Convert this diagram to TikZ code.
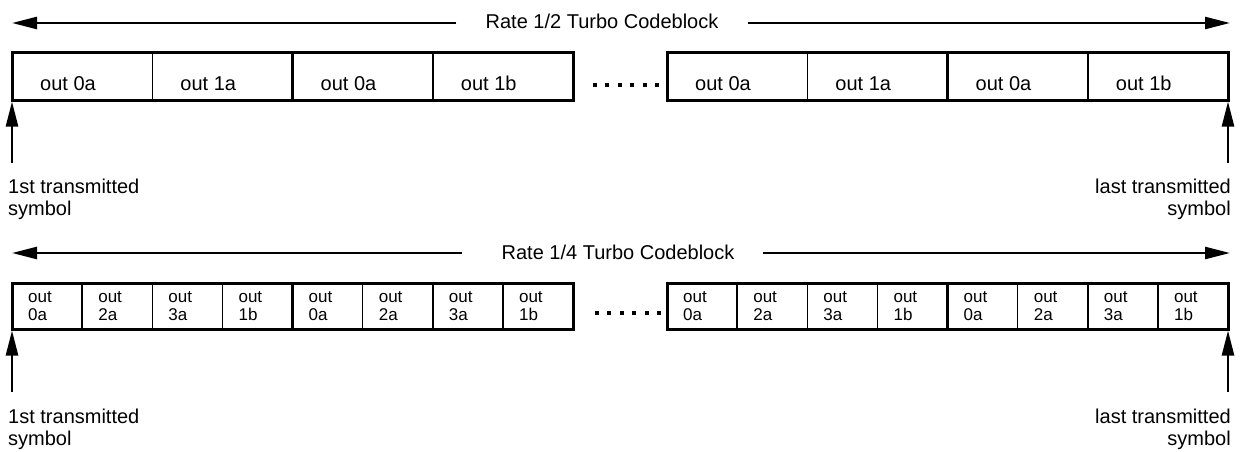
\documentclass[tikz,border=0pt]{standalone}
\usepackage{fontspec}
\setmainfont{Liberation Sans}
\usetikzlibrary{arrows.meta}
\begin{document}
\begin{tikzpicture}[x=1pt,y=-1pt,
  big/.style={font=\fontsize{20}{24}\selectfont, inner sep=0pt},
  small/.style={font=\fontsize{17}{20}\selectfont, inner sep=0pt},
  cellA/.style={draw, line width=1.5pt, minimum width=140.25pt, minimum height=47pt, inner sep=0pt, outer sep=0pt, anchor=north west},
  cellB/.style={draw, line width=1.5pt, minimum width=70.125pt, minimum height=46pt, inner sep=0pt, outer sep=0pt, anchor=north west},
  grp/.style={draw, line width=3pt, inner sep=0pt, outer sep=0pt, anchor=north west},
  sep/.style={line width=3pt},
  arr/.style={line width=2.5pt, -{Triangle[length=25pt 0 0,width=12pt 0 0]}},
  dots/.style={line width=4pt, dash pattern=on 4pt off 8.4pt},
]
\useasboundingbox (0,0) rectangle (1240,452);

% ---------------- Rate 1/2 ----------------
\coordinate (tl) at (12,23);
\coordinate (tr) at (1230,23);
\node[big, anchor=base] (T1) at (602,29) {Rate 1/2 Turbo Codeblock};
\draw[arr] ([xshift=-29pt]T1.west |- tl) -- (tl);
\draw[arr] ([xshift=29pt]T1.east |- tr) -- (tr);

\foreach \g/\gx in {1/12, 2/667} {
  \foreach \t [count=\i from 0] in {out 0a, out 1a, out 0a, out 1b} {
    \node[cellA] (a\g\i) at (\gx+\i*140.25, 53) {};
    \node[big, anchor=base west] (ta\g\i) at (\gx+\i*140.25+28, 91) {\t};
  }
  \node[grp, minimum width=561pt, minimum height=47pt] (A\g) at (\gx,53) {};
  \draw[sep] (a\g1.north east) -- (a\g1.south east);
}
\draw[dots] (593,85) -- (659,85);

\coordinate (s1) at (12,163);
\coordinate (s2) at (1228,163);
\draw[arr] (s1) -- ([yshift=-1.5pt]A1.south west);
\draw[arr] (s2) -- ([yshift=-1.5pt]A2.south east);
\node[big, anchor=base west] (f1) at (8,193) {1st transmitted};
\node[big, anchor=base west] (f2) at (8,215) {symbol};
\node[big, anchor=base east] (e1) at (1231,193) {last transmitted};
\node[big, anchor=base east] (e2) at (1231,215) {symbol};

% ---------------- Rate 1/4 ----------------
\coordinate (bl) at (12,253);
\coordinate (br) at (1230,253);
\node[big, anchor=base] (T2) at (618,259) {Rate 1/4 Turbo Codeblock};
\draw[arr] ([xshift=-39pt]T2.west |- bl) -- (bl);
\draw[arr] ([xshift=28pt]T2.east |- br) -- (br);

\foreach \g/\gx in {1/12, 2/667} {
  \foreach \t [count=\i from 0] in {0a, 2a, 3a, 1b, 0a, 2a, 3a, 1b} {
    \node[cellB] (b\g\i) at (\gx+\i*70.125, 283) {};
    \node[small, anchor=base west] (tb\g\i) at (\gx+\i*70.125+16, 302) {out};
    \node[small, anchor=base west] (ub\g\i) at (\gx+\i*70.125+16, 320) {\t};
  }
  \node[grp, minimum width=561pt, minimum height=46pt] (B\g) at (\gx,283) {};
  \draw[sep] (b\g3.north east) -- (b\g3.south east);
}
\draw[dots] (595,313) -- (661,313);

\coordinate (q1) at (12,392);
\coordinate (q2) at (1228,392);
\draw[arr] (q1) -- ([yshift=-1.5pt]B1.south west);
\draw[arr] (q2) -- ([yshift=-1.5pt]B2.south east);
\node[big, anchor=base west] (g1) at (8,423) {1st transmitted};
\node[big, anchor=base west] (g2) at (8,445) {symbol};
\node[big, anchor=base east] (h1) at (1231,423) {last transmitted};
\node[big, anchor=base east] (h2) at (1231,445) {symbol};
\end{tikzpicture}
\end{document}
